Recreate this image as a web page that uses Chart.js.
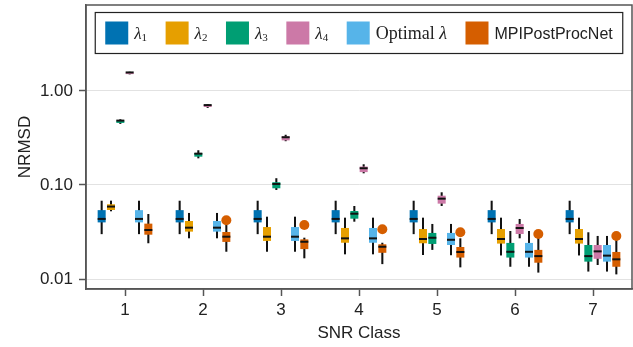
<!DOCTYPE html>
<html>
<head>
<meta charset="utf-8">
<script src="https://cdn.jsdelivr.net/npm/chart.js@4"></script>
<style>
  html, body { margin: 0; padding: 0; background: #fff; }
</style>
</head>
<body>
<canvas id="chart" width="633" height="347"></canvas>
<script>
// categories
const snrClasses = ['1', '2', '3', '4', '5', '6', '7'];
const seriesNames = ['λ1', 'λ2', 'λ3', 'λ4', 'Optimal λ', 'MPIPostProcNet'];
const yTickValues = [0.01, 0.1, 1];

// one entry per SNR class: [whisker low, q1, median, q3, whisker high]
const lambda1 = [
  [0.030, 0.040, 0.0425, 0.054, 0.068],
  [0.030, 0.040, 0.0425, 0.054, 0.068],
  [0.030, 0.040, 0.0425, 0.054, 0.068],
  [0.030, 0.040, 0.0425, 0.054, 0.068],
  [0.030, 0.040, 0.0425, 0.054, 0.068],
  [0.030, 0.040, 0.0425, 0.054, 0.068],
  [0.030, 0.040, 0.0425, 0.054, 0.068]
];
const lambda2 = [
  [0.0525, 0.0542, 0.0575, 0.0623, 0.0681],
  [0.0271, 0.0319, 0.0343, 0.0414, 0.0504],
  [0.0195, 0.0254, 0.0275, 0.0357, 0.0460],
  [0.0183, 0.0243, 0.0264, 0.0349, 0.0449],
  [0.0180, 0.0240, 0.0260, 0.0340, 0.0449],
  [0.0178, 0.0238, 0.0260, 0.0340, 0.0449],
  [0.0178, 0.0238, 0.0260, 0.0340, 0.0449]
];
const lambda3 = [
  [0.446, 0.457, 0.472, 0.483, 0.500],
  [0.192, 0.200, 0.210, 0.219, 0.234],
  [0.0885, 0.0922, 0.100, 0.107, 0.118],
  [0.0407, 0.0438, 0.0483, 0.0529, 0.0598],
  [0.0204, 0.0236, 0.0268, 0.0309, 0.0385],
  [0.0135, 0.0169, 0.0190, 0.0242, 0.0324],
  [0.0120, 0.0153, 0.0171, 0.0230, 0.0314]
];
const lambda4 = [
  [1.50, 1.51, 1.535, 1.56, 1.60],
  [0.660, 0.675, 0.690, 0.705, 0.720],
  [0.292, 0.298, 0.314, 0.328, 0.342],
  [0.133, 0.137, 0.147, 0.157, 0.166],
  [0.0598, 0.0633, 0.0698, 0.0769, 0.0836],
  [0.0271, 0.0301, 0.0340, 0.0385, 0.0435],
  [0.0141, 0.0164, 0.0192, 0.0230, 0.0287]
];
const optimalLambda = [
  [0.030, 0.040, 0.0425, 0.054, 0.068],
  [0.0271, 0.0319, 0.0343, 0.0414, 0.0504],
  [0.0195, 0.0254, 0.0275, 0.0357, 0.0460],
  [0.0183, 0.0243, 0.0264, 0.0349, 0.0449],
  [0.0179, 0.0230, 0.0255, 0.0309, 0.0385],
  [0.0135, 0.0169, 0.0190, 0.0242, 0.0324],
  [0.0120, 0.0153, 0.0173, 0.0230, 0.0287]
];
const mpiPostProcNet = [
  [0.0240, 0.0296, 0.0324, 0.0388, 0.0491],
  [0.0195, 0.0248, 0.0275, 0.0316, 0.0385],
  [0.0166, 0.0208, 0.0243, 0.0264, 0.0275],
  [0.0144, 0.0190, 0.0215, 0.0234, 0.0243],
  [0.0133, 0.0169, 0.0189, 0.0219, 0.0271],
  [0.0117, 0.0149, 0.0171, 0.0204, 0.0278],
  [0.0112, 0.0135, 0.0158, 0.0194, 0.0264]
];
const mpiOutliers = [null, 0.0421, 0.0375, 0.0338, 0.0314, 0.0301, 0.0287];

// styling
const allSeries = [lambda1, lambda2, lambda3, lambda4, optimalLambda, mpiPostProcNet];
const colors = ['#0072B2', '#E69F00', '#009E73', '#CC79A7', '#56B4E9', '#D55E00'];
const Y_MIN = 0.00783, Y_MAX = 8.2;
const GROUP_PCT = 0.718, BOX_PCT = 0.86, WHISKER_PCT = 0.22;
const axisColor = '#555';
const textColor = '#222';
const sansFont = '"Liberation Sans", Arial, Helvetica, sans-serif';
const serifFont = '"Liberation Serif", "Times New Roman", serif';

const datasets = [];
// medians first so they are drawn on top
allSeries.forEach((s, i) => datasets.push({
  label: seriesNames[i] + ' median',
  data: s.map(b => [b[2], b[2]]),
  backgroundColor: '#111',
  minBarLength: 2,
  barPercentage: BOX_PCT,
  categoryPercentage: GROUP_PCT,
  stack: 's' + i
}));
// boxes (q1..q3)
allSeries.forEach((s, i) => datasets.push({
  label: seriesNames[i],
  data: s.map(b => [b[1], b[3]]),
  backgroundColor: colors[i],
  minBarLength: 1,
  barPercentage: BOX_PCT,
  categoryPercentage: GROUP_PCT,
  stack: 's' + i
}));
// whiskers
allSeries.forEach((s, i) => datasets.push({
  label: seriesNames[i] + ' whisker',
  data: s.map(b => [b[0], b[4]]),
  backgroundColor: '#111',
  barPercentage: WHISKER_PCT,
  categoryPercentage: GROUP_PCT,
  stack: 's' + i
}));

// outlier dots on the MPIPostProcNet boxes
const outlierPlugin = {
  id: 'outliers',
  afterDatasetsDraw(chart) {
    const meta = chart.getDatasetMeta(allSeries.length + 5);
    const y = chart.scales.y;
    const ctx = chart.ctx;
    ctx.save();
    ctx.fillStyle = colors[5];
    mpiOutliers.forEach((v, i) => {
      if (v == null) return;
      const bar = meta.data[i];
      ctx.beginPath();
      ctx.arc(bar.x, y.getPixelForValue(v), 5, 0, Math.PI * 2);
      ctx.fill();
    });
    ctx.restore();
  }
};

// frame round the plot area
const framePlugin = {
  id: 'frame',
  afterDraw(chart) {
    const {ctx, chartArea: a} = chart;
    ctx.save();
    ctx.strokeStyle = axisColor;
    ctx.lineWidth = 1.5;
    ctx.strokeRect(a.left, a.top, a.right - a.left, a.bottom - a.top);
    ctx.restore();
  }
};

function labelParts(name) {
  const m = name.match(/^λ(\d)$/);
  if (m) return [
    {t: 'λ', f: 'italic 17px ' + serifFont, dy: 0},
    {t: m[1], f: '11px ' + serifFont, dy: 2}
  ];
  if (name.endsWith(' λ')) return [
    {t: name.slice(0, -1), f: '18px ' + serifFont, dy: 0},
    {t: 'λ', f: 'italic 18px ' + serifFont, dy: 0}
  ];
  return [{t: name, f: '16px ' + sansFont, dy: 0}];
}

// legend box at the top of the plot
const legendPlugin = {
  id: 'boxLegend',
  afterDraw(chart) {
    const {ctx, chartArea} = chart;
    const sw = 23, gapText = 6, gapItem = 18.5, padX = 10, h = 41;
    const top = chartArea.top + 7.5;
    ctx.save();
    const widths = seriesNames.map(n => labelParts(n).reduce((w, p) => {
      ctx.font = p.f;
      return w + ctx.measureText(p.t).width;
    }, 0));
    const total = padX * 2 + widths.reduce((a, w) => a + sw + gapText + w, 0) + gapItem * (seriesNames.length - 1);
    const left = (chartArea.left + chartArea.right) / 2 - total / 2;
    ctx.fillStyle = '#fff';
    ctx.fillRect(left, top, total, h);
    ctx.strokeStyle = '#222';
    ctx.lineWidth = 1.2;
    ctx.strokeRect(left, top, total, h);
    let x = left + padX;
    const baseline = top + 26.5;
    ctx.textBaseline = 'alphabetic';
    seriesNames.forEach((n, i) => {
      ctx.fillStyle = colors[i];
      ctx.fillRect(x, top + (h - sw) / 2, sw, sw);
      x += sw + gapText;
      ctx.fillStyle = textColor;
      labelParts(n).forEach(p => {
        ctx.font = p.f;
        ctx.fillText(p.t, x, baseline + p.dy);
        x += ctx.measureText(p.t).width;
      });
      x += gapItem;
    });
    ctx.restore();
  }
};

new Chart(document.getElementById('chart'), {
  type: 'bar',
  data: { labels: snrClasses, datasets: datasets },
  options: {
    responsive: false,
    animation: false,
    devicePixelRatio: 1,
    layout: { padding: { top: 5, right: 1, left: 0, bottom: 0 } },
    plugins: { legend: { display: false }, tooltip: { enabled: false } },
    scales: {
      x: {
        offset: true,
        grid: { drawOnChartArea: false, offset: false, tickLength: 7, tickColor: axisColor, tickWidth: 1.5 },
        border: { color: axisColor, width: 1.5 },
        ticks: { color: textColor, font: { family: sansFont, size: 17 }, padding: 4 },
        title: { display: true, text: 'SNR Class', color: textColor, font: { family: sansFont, size: 17 }, padding: { top: 0, bottom: 3 } },
        afterFit(s) { s.height = 58; s.paddingLeft = 0; s.paddingRight = 0; }
      },
      y: {
        type: 'logarithmic',
        min: Y_MIN,
        max: Y_MAX,
        stacked: false,
        afterBuildTicks(s) { s.ticks = yTickValues.map(v => ({ value: v })); },
        grid: { color: '#e2e2e2', lineWidth: 1, tickColor: axisColor, tickLength: 7, tickWidth: 1.5 },
        border: { color: axisColor, width: 1.5 },
        ticks: { callback: v => Number(v).toFixed(2), color: textColor, font: { family: sansFont, size: 17 }, padding: 6 },
        title: { display: true, text: 'NRMSD', color: textColor, font: { family: sansFont, size: 17 }, padding: { top: 15, bottom: 0 } },
        afterFit(s) { s.width = 86; s.paddingTop = 0; s.paddingBottom = 0; }
      }
    }
  },
  plugins: [outlierPlugin, framePlugin, legendPlugin]
});
</script>
</body>
</html>
